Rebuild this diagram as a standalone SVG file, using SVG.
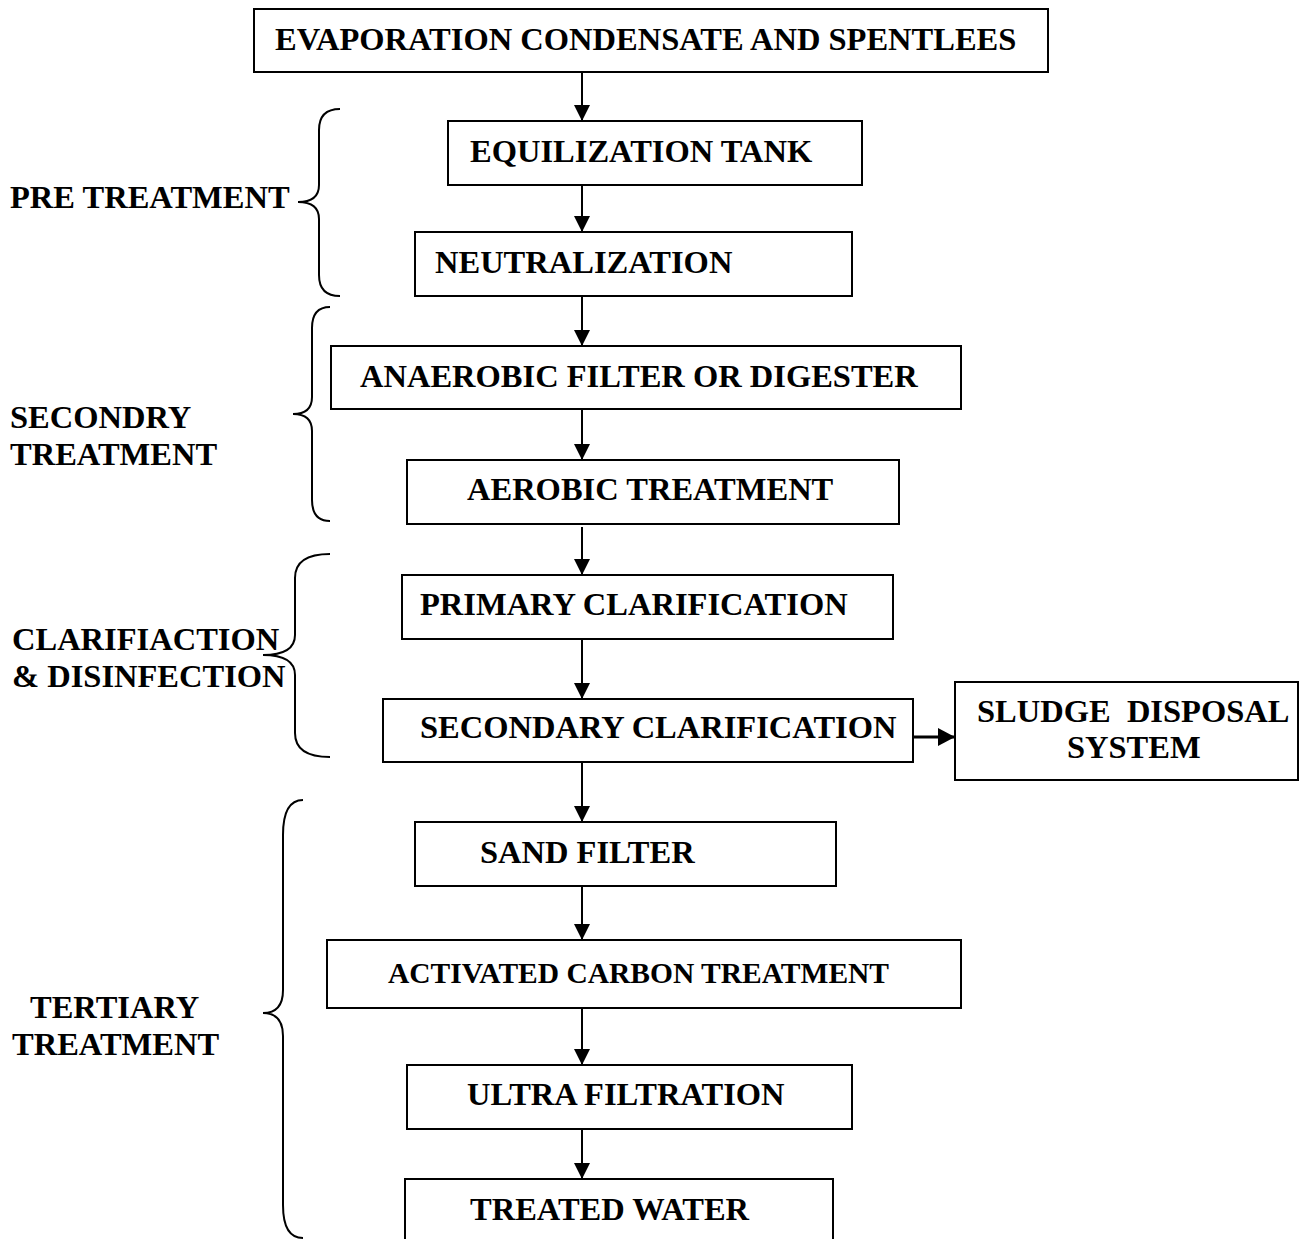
<svg xmlns="http://www.w3.org/2000/svg" width="1299" height="1239" viewBox="0 0 1299 1239">
<defs>
<marker id="ah" markerUnits="userSpaceOnUse" markerWidth="16" markerHeight="16" viewBox="0 0 16 16" refX="16" refY="8" orient="auto">
<path d="M0,0 L16,8 L0,16 Z" fill="#000"/>
</marker>
<marker id="ah2" markerUnits="userSpaceOnUse" markerWidth="17" markerHeight="18" viewBox="0 0 17 18" refX="17" refY="9" orient="auto">
<path d="M0,0 L17,9 L0,18 Z" fill="#000"/>
</marker>
<style>
.box{fill:#fff;stroke:#000;stroke-width:2}
.t{font-family:"Liberation Serif","Times New Roman",serif;font-weight:bold;font-size:32.5px;fill:#000}
.c{stroke:#000;stroke-width:2;fill:none}
.br{stroke:#000;stroke-width:2;fill:none}
</style>
</defs>
<rect width="1299" height="1239" fill="#fff"/>
<g id="connectors">
<line class="c" x1="582" y1="72" x2="582" y2="121" marker-end="url(#ah)"/>
<line class="c" x1="582" y1="185" x2="582" y2="232" marker-end="url(#ah)"/>
<line class="c" x1="582" y1="296" x2="582" y2="346" marker-end="url(#ah)"/>
<line class="c" x1="582" y1="409" x2="582" y2="460" marker-end="url(#ah)"/>
<line class="c" x1="582" y1="527" x2="582" y2="575" marker-end="url(#ah)"/>
<line class="c" x1="582" y1="639" x2="582" y2="699" marker-end="url(#ah)"/>
<line class="c" x1="582" y1="762" x2="582" y2="822" marker-end="url(#ah)"/>
<line class="c" x1="582" y1="886" x2="582" y2="940" marker-end="url(#ah)"/>
<line class="c" x1="582" y1="1008" x2="582" y2="1065" marker-end="url(#ah)"/>
<line class="c" x1="582" y1="1129" x2="582" y2="1179" marker-end="url(#ah)"/>
<line class="c" x1="913" y1="737" x2="955" y2="737" marker-end="url(#ah2)" style="stroke-width:3"/>
</g>
<g id="n1"><rect class="box" x="254" y="9" width="794" height="63"/><text class="t" x="275" y="50">EVAPORATION CONDENSATE AND SPENTLEES</text></g>
<g id="n2"><rect class="box" x="448" y="121" width="414" height="64"/><text class="t" x="470" y="162">EQUILIZATION TANK</text></g>
<g id="n3"><rect class="box" x="415" y="232" width="437" height="64"/><text class="t" x="435" y="273">NEUTRALIZATION</text></g>
<g id="n4"><rect class="box" x="331" y="346" width="630" height="63"/><text class="t" x="360" y="387">ANAEROBIC FILTER OR DIGESTER</text></g>
<g id="n5"><rect class="box" x="407" y="460" width="492" height="64"/><text class="t" x="467" y="500">AEROBIC TREATMENT</text></g>
<g id="n6"><rect class="box" x="402" y="575" width="491" height="64"/><text class="t" x="420" y="615">PRIMARY CLARIFICATION</text></g>
<g id="n7"><rect class="box" x="383" y="699" width="530" height="63"/><text class="t" x="420" y="738">SECONDARY CLARIFICATION</text></g>
<g id="n12"><rect class="box" x="955" y="682" width="343" height="98"/><text class="t" x="977" y="722" xml:space="preserve">SLUDGE  DISPOSAL</text><text class="t" x="1067" y="758">SYSTEM</text></g>
<g id="n8"><rect class="box" x="415" y="822" width="421" height="64"/><text class="t" x="480" y="863">SAND FILTER</text></g>
<g id="n9"><rect class="box" x="327" y="940" width="634" height="68"/><text class="t" x="388" y="983" style="font-size:29.5px">ACTIVATED CARBON TREATMENT</text></g>
<g id="n10"><rect class="box" x="407" y="1065" width="445" height="64"/><text class="t" x="467" y="1105">ULTRA FILTRATION</text></g>
<g id="n11"><rect class="box" x="405" y="1179" width="428" height="80"/><text class="t" x="470" y="1220">TREATED WATER</text></g>
<g id="braces">
<path class="br" d="M340,109 Q319,109 319,130 L319,185 Q319,202 298,202 Q319,202 319,219 L319,275 Q319,296 340,296"/>
<path class="br" d="M330,307 Q312,307 312,328 L312,397 Q312,414 293,414 Q312,414 312,431 L312,500 Q312,521 330,521"/>
<path class="br" d="M330,554 Q295,554 295,578 L295,635 Q295,655 263,655 Q295,655 295,675 L295,733 Q295,757 330,757"/>
<path class="br" d="M303,800 Q283,800 283,835 L283,990 Q283,1013 263,1013 Q283,1013 283,1036 L283,1205 Q283,1238 303,1238"/>
</g>
<g id="labels">
<text class="t" x="10" y="208">PRE TREATMENT</text>
<text class="t" x="10" y="428">SECONDRY</text>
<text class="t" x="10" y="465">TREATMENT</text>
<text class="t" x="12" y="650">CLARIFIACTION</text>
<text class="t" x="12" y="687">&amp; DISINFECTION</text>
<text class="t" x="30" y="1018">TERTIARY</text>
<text class="t" x="12" y="1055">TREATMENT</text>
</g>
</svg>
